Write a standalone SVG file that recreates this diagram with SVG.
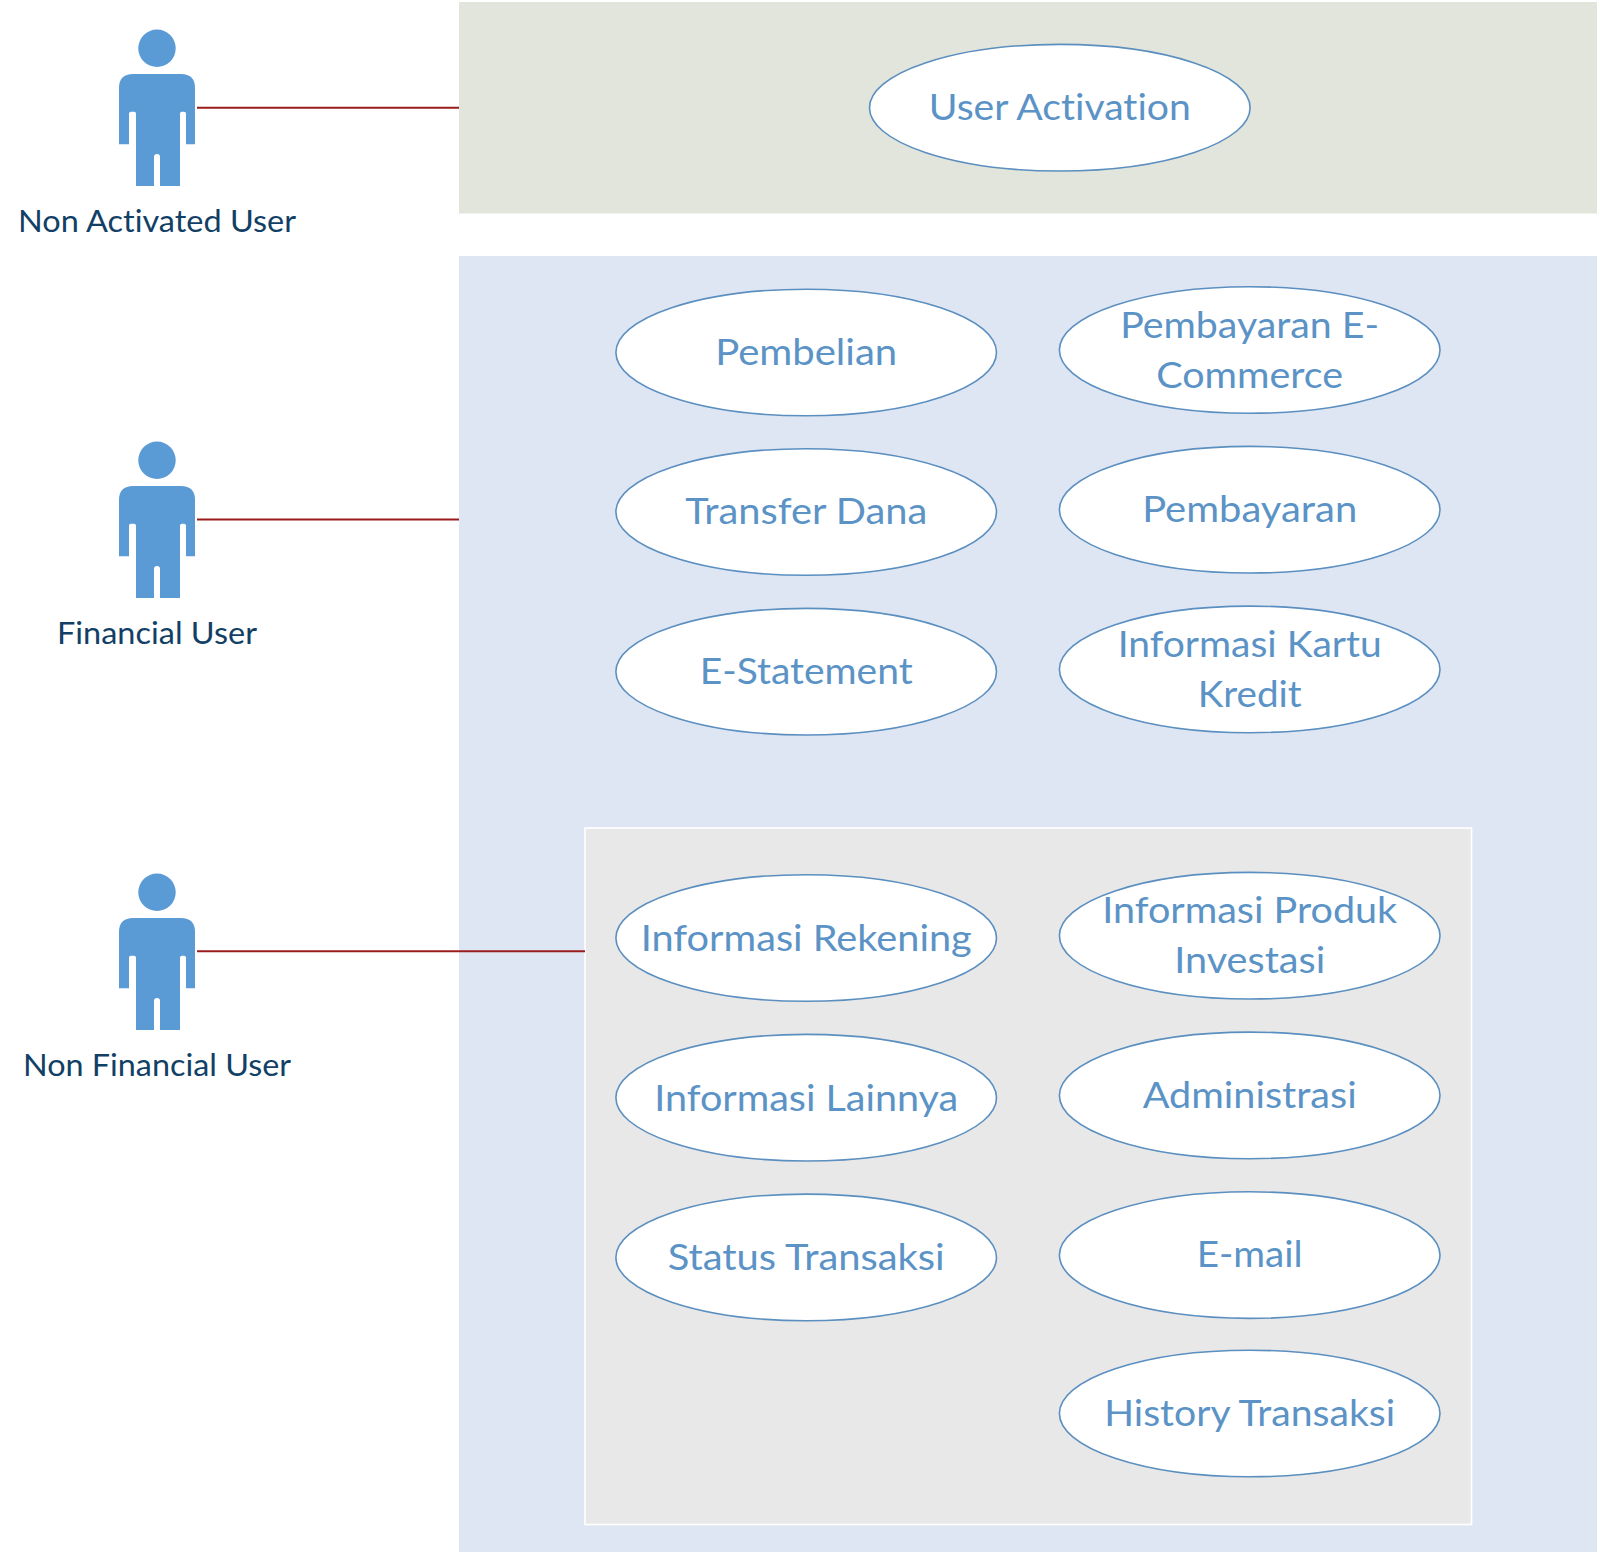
<svg xmlns="http://www.w3.org/2000/svg" width="1600" height="1555" viewBox="0 0 1600 1555">
<style>
.uc{fill:#fff;stroke:#5b8fc0;stroke-width:1.6}
.ut{font-family:"Lato","Liberation Sans",sans-serif;font-size:37px;fill:#5b93c6;text-anchor:middle;font-variant-ligatures:none}
.al{font-family:"Lato","Liberation Sans",sans-serif;font-size:30px;fill:#123f66;text-anchor:middle;font-variant-ligatures:none}
.link{stroke:#9b1c1c;stroke-width:2;fill:none}
.body{fill:#5b9bd5}
</style>
<defs>
<g id="actor"><circle class="body" cx="157" cy="48.3" r="18.7"/><path class="body" d="M133 74H181Q195 74 195 88V144.3H186V113.500Q186 111.700 184 111.700H182Q180 111.700 180 113.500V186H160V157Q160 154 157 154Q154 154 154 157V186H136V113.500Q136 111.700 134 111.700H131Q129 111.700 129 113.500V144.3H119V88Q119 74 133 74Z"/></g>
</defs>
<rect width="1600" height="1555" fill="#fff"/>
<rect id="zone-activation" x="459" y="2" width="1138" height="211.5" fill="#e2e5db"/>
<rect id="zone-financial" x="459" y="256" width="1138" height="1296" fill="#dfe6f3"/>
<rect id="zone-nonfinancial" x="585" y="828" width="886.500" height="696.500" fill="#e8e8e8" stroke="#fff" stroke-width="1.6"/>
<g id="connectors">
<path class="link" d="M197 107.700H459"/>
<path class="link" d="M197 519.400H459"/>
<path class="link" d="M197 951.300H585"/>
</g>
<g id="actor-non-activated"><use href="#actor"/><text class="al" x="157" y="232" textLength="278" lengthAdjust="spacingAndGlyphs">Non Activated User</text></g>
<g id="actor-financial"><use href="#actor" y="412"/><text class="al" x="157" y="644" textLength="200" lengthAdjust="spacingAndGlyphs">Financial User</text></g>
<g id="actor-non-financial"><use href="#actor" y="844"/><text class="al" x="157" y="1076" textLength="268" lengthAdjust="spacingAndGlyphs">Non Financial User</text></g>
<g id="uc-user-activation"><ellipse class="uc" cx="1059.800" cy="107.700" rx="190.300" ry="63.300"/><text class="ut" x="1059.800" y="120" textLength="262" lengthAdjust="spacingAndGlyphs">User Activation</text></g>
<g id="uc-pembelian"><ellipse class="uc" cx="806.200" cy="352.500" rx="190.300" ry="63.300"/><text class="ut" x="806.200" y="365" textLength="182" lengthAdjust="spacingAndGlyphs">Pembelian</text></g>
<g id="uc-pembayaran-ecommerce"><ellipse class="uc" cx="1249.700" cy="350" rx="190.300" ry="63.300"/><text class="ut" x="1249.700" y="337.700" textLength="259" lengthAdjust="spacingAndGlyphs">Pembayaran E-</text><text class="ut" x="1249.700" y="387.800" textLength="187" lengthAdjust="spacingAndGlyphs">Commerce</text></g>
<g id="uc-transfer-dana"><ellipse class="uc" cx="806.200" cy="512" rx="190.300" ry="63.300"/><text class="ut" x="806.200" y="524" textLength="242" lengthAdjust="spacingAndGlyphs">Transfer Dana</text></g>
<g id="uc-pembayaran"><ellipse class="uc" cx="1249.700" cy="509.700" rx="190.300" ry="63.300"/><text class="ut" x="1249.700" y="522" textLength="215" lengthAdjust="spacingAndGlyphs">Pembayaran</text></g>
<g id="uc-e-statement"><ellipse class="uc" cx="806.200" cy="671.700" rx="190.300" ry="63.300"/><text class="ut" x="806.200" y="684.200" textLength="213" lengthAdjust="spacingAndGlyphs">E-Statement</text></g>
<g id="uc-informasi-kartu-kredit"><ellipse class="uc" cx="1249.700" cy="669.400" rx="190.300" ry="63.300"/><text class="ut" x="1249.700" y="656.800" textLength="264" lengthAdjust="spacingAndGlyphs">Informasi Kartu</text><text class="ut" x="1249.700" y="706.700" textLength="104" lengthAdjust="spacingAndGlyphs">Kredit</text></g>
<g id="uc-informasi-rekening"><ellipse class="uc" cx="806.200" cy="938" rx="190.300" ry="63.300"/><text class="ut" x="806.200" y="950.500" textLength="331" lengthAdjust="spacingAndGlyphs">Informasi Rekening</text></g>
<g id="uc-informasi-produk"><ellipse class="uc" cx="1249.700" cy="935.700" rx="190.300" ry="63.300"/><text class="ut" x="1249.700" y="923.400" textLength="295" lengthAdjust="spacingAndGlyphs">Informasi Produk</text><text class="ut" x="1249.700" y="973" textLength="151" lengthAdjust="spacingAndGlyphs">Investasi</text></g>
<g id="uc-informasi-lainnya"><ellipse class="uc" cx="806.200" cy="1097.700" rx="190.300" ry="63.300"/><text class="ut" x="806.200" y="1110.500" textLength="304" lengthAdjust="spacingAndGlyphs">Informasi Lainnya</text></g>
<g id="uc-administrasi"><ellipse class="uc" cx="1249.700" cy="1095.400" rx="190.300" ry="63.300"/><text class="ut" x="1249.700" y="1108" textLength="214" lengthAdjust="spacingAndGlyphs">Administrasi</text></g>
<g id="uc-status-transaksi"><ellipse class="uc" cx="806.200" cy="1257.400" rx="190.300" ry="63.300"/><text class="ut" x="806.200" y="1270" textLength="277" lengthAdjust="spacingAndGlyphs">Status Transaksi</text></g>
<g id="uc-email"><ellipse class="uc" cx="1249.700" cy="1255.100" rx="190.300" ry="63.300"/><text class="ut" x="1249.700" y="1267.300" textLength="106" lengthAdjust="spacingAndGlyphs">E-mail</text></g>
<g id="uc-history-transaksi"><ellipse class="uc" cx="1249.700" cy="1413.500" rx="190.300" ry="63.300"/><text class="ut" x="1249.700" y="1426" textLength="291" lengthAdjust="spacingAndGlyphs">History Transaksi</text></g>
</svg>
